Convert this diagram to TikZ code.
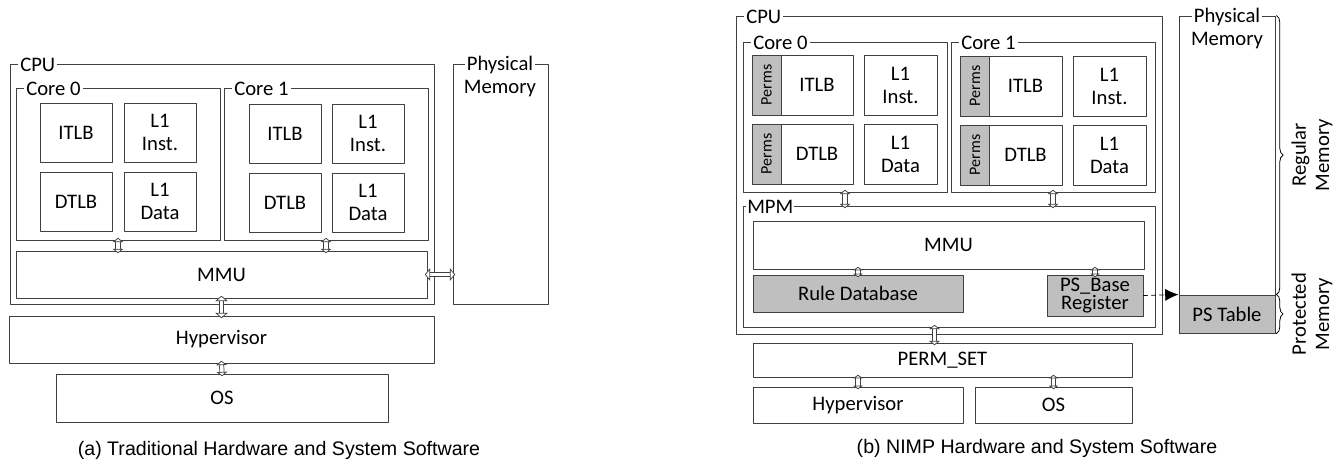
\documentclass[tikz,border=0pt]{standalone}
\usepackage{fontspec}
\setmainfont{Carlito}
\newfontfamily\capfont{Liberation Sans}
\usepackage{tikz}
\usetikzlibrary{arrows.meta,decorations.pathreplacing}
\newlength\px
\setlength\px{0.75pt}
\definecolor{linec}{RGB}{64,64,64}
\definecolor{permgray}{RGB}{191,191,191}
\newcommand\lbl{\fontsize{15.5}{17.3}\selectfont}
\newcommand\smlbl{\fontsize{12}{13}\selectfont}
\tikzset{
  sz/.style 2 args={minimum width=#1\px, minimum height=#2\px},
  bx/.style={draw=linec, line width=0.7pt, inner sep=0pt, align=center, font=\lbl},
  gbx/.style={bx, fill=permgray},
  frm/.style={draw=linec, line width=0.7pt, inner sep=0pt},
  tag/.style={fill=white, inner xsep=2\px, inner ysep=0pt, font=\lbl, anchor=base west},
  hd/.tip={Triangle[fill=white, length=3.2pt, width=8pt, line width=0.55pt]},
  shd/.tip={Triangle[fill=white, length=2.6pt, width=7pt, line width=0.55pt]},
  bhd/.tip={Triangle[fill=white, length=4pt, width=9.5pt, line width=0.55pt]},
  dbl/.style={draw=linec, line width=0.55pt, double=white, double distance=2.7pt,
    {hd}-{hd}, shorten <=-2pt, shorten >=-2pt},
  sdbl/.style={dbl, {shd}-{shd}},
  bdbl/.style={dbl, {bhd}-{bhd}},
  brc/.style={draw=black, line width=0.6pt, decorate, decoration={brace, amplitude=5pt}},
  captxt/.style={font=\capfont\fontsize{14.7}{16}\selectfont}
}
\begin{document}
\begin{tikzpicture}[line cap=round,line join=round,x=0.75pt,y=-0.75pt]
\useasboundingbox (0,0) rectangle (1342,465);
% (a) traditional
\node[frm, sz={424}{240}] (cpuA) at (222,184) {};
\node[tag] (cpuAtag) at (18,71) {CPU};
\node[frm, sz={204}{152}] (core0A) at (118,164) {};
\node[tag] (core0Atag) at (24,95) {Core 0};
\node[frm, sz={204}{152}] (core1A) at (326,164) {};
\node[tag] (core1Atag) at (232,95) {Core 1};
\node[bx, sz={72}{59}] (itlb0A) at (76,132.5) {ITLB};
\node[bx, sz={72}{59}] (l1i0A) at (160,132.5) {L1\\Inst.};
\node[bx, sz={72}{59}] (dtlb0A) at (76,201.5) {DTLB};
\node[bx, sz={72}{59}] (l1d0A) at (160,201.5) {L1\\Data};
\node[bx, sz={72}{59}] (itlb1A) at (285,133.5) {ITLB};
\node[bx, sz={72}{59}] (l1i1A) at (368,133.5) {L1\\Inst.};
\node[bx, sz={72}{59}] (dtlb1A) at (285,202.5) {DTLB};
\node[bx, sz={72}{59}] (l1d1A) at (368,202.5) {L1\\Data};
\node[bx, sz={411}{47}] (mmuA) at (221.5,274.5) {MMU};
\node[bx, sz={425}{47}] (hypA) at (221.5,339.5) {Hypervisor};
\node[bx, sz={332}{48}] (osA) at (222,398) {OS};
\node[frm, sz={95}{240}] (memA) at (500.5,184) {};
\node[tag, anchor=base] (memAtag) at (500,70.5) {Physical};
\node[font=\lbl, anchor=base, inner sep=0pt] (memAtxt) at (500,93.5) {Memory};
\draw[dbl] (core0A.south) -- (core0A.south |- mmuA.north);
\draw[dbl] (core1A.south) -- (core1A.south |- mmuA.north);
\draw[bdbl] (mmuA.east) -- (memA.west |- mmuA.east);
\draw[bdbl] (mmuA.south) -- (hypA.north);
\draw[dbl] (hypA.south) -- (osA.north);
\node[captxt] (capA) at (279,450) {(a) Traditional Hardware and System Software};
% (b) NIMP
\node[frm, sz={426}{318}] (cpuB) at (949,175) {};
\node[tag] (cpuBtag) at (744,23) {CPU};
\node[frm, sz={204}{150}] (core0B) at (845,117) {};
\node[tag] (core0Btag) at (751,49) {Core 0};
\node[frm, sz={204}{150}] (core1B) at (1053,117) {};
\node[tag] (core1Btag) at (959,49) {Core 1};
\node[gbx, sz={60}{29}, rotate=90, font=\smlbl] (perm0i) at (766.5,85) {Perms};
\node[bx, sz={72}{60}] (itlb0B) at (817,85) {ITLB};
\node[bx, sz={73}{60}] (l1i0B) at (900.5,85) {L1\\Inst.};
\node[gbx, sz={60}{29}, rotate=90, font=\smlbl] (perm0d) at (766.5,154) {Perms};
\node[bx, sz={72}{60}] (dtlb0B) at (817,154) {DTLB};
\node[bx, sz={73}{60}] (l1d0B) at (900.5,154) {L1\\Data};
\node[gbx, sz={60}{29}, rotate=90, font=\smlbl] (perm1i) at (975,86) {Perms};
\node[bx, sz={73}{60}] (itlb1B) at (1025.5,86) {ITLB};
\node[bx, sz={73}{60}] (l1i1B) at (1109.5,86) {L1\\Inst.};
\node[gbx, sz={60}{29}, rotate=90, font=\smlbl] (perm1d) at (975,155) {Perms};
\node[bx, sz={73}{60}] (dtlb1B) at (1025.5,155) {DTLB};
\node[bx, sz={73}{60}] (l1d1B) at (1109.5,155) {L1\\Data};
\node[frm, sz={412}{121}] (mpmB) at (949,266.5) {};
\node[tag, inner xsep=1\px] (mpmBtag) at (746,213) {MPM};
\node[bx, sz={391}{48}] (mmuB) at (948.5,245) {MMU};
\node[gbx, sz={210}{37}] (ruleB) at (858,293.5) {Rule Database};
\node[gbx, sz={96}{41}, font=\fontsize{15.5}{11.8}\selectfont] (psbB) at (1095,295.5) {PS\_Base\\Register};
\node[bx, sz={379}{34}] (permB) at (942.5,360) {PERM\_SET};
\node[bx, sz={210}{36}] (hypB) at (858,405) {Hypervisor};
\node[bx, sz={157}{36}] (osB) at (1053.5,405) {OS};
\node[frm, sz={96}{317}] (memB) at (1227,174.5) {};
\node[tag, anchor=base] (memBtag) at (1227,22.5) {Physical};
\node[font=\lbl, anchor=base, inner sep=0pt] (memBtxt) at (1227,45.5) {Memory};
\node[gbx, sz={96}{38}] (pstB) at (1227,314) {PS Table};
\draw[dbl] (core0B.south) -- (core0B.south |- mpmB.north);
\draw[dbl] (core1B.south) -- (core1B.south |- mpmB.north);
\draw[sdbl] (ruleB.north |- mmuB.south) -- (ruleB.north);
\draw[sdbl] (psbB.north |- mmuB.south) -- (psbB.north);
\draw[dbl] ([xshift=-8\px]permB.north |- mpmB.south) -- ([xshift=-8\px]permB.north);
\draw[sdbl] (hypB.north |- permB.south) -- (hypB.north);
\draw[sdbl] (osB.north |- permB.south) -- (osB.north);
\draw[dashed, line width=0.6pt, -{Latex[length=10pt, width=9pt]}] (psbB.east) -- (pstB.north west);
\draw[brc] ([xshift=1\px]memB.north east) -- ([xshift=1\px]pstB.north east);
\draw[brc] ([xshift=1\px]pstB.north east) -- ([xshift=1\px]pstB.south east);
\node[rotate=90, align=center, font=\lbl] (regB) at (1312,155) {Regular\\Memory};
\node[rotate=90, align=center, font=\lbl] (protB) at (1312,314) {Protected\\Memory};
\node[captxt] (capB) at (1037,448) {(b) NIMP Hardware and System Software};
\end{tikzpicture}
\end{document}
